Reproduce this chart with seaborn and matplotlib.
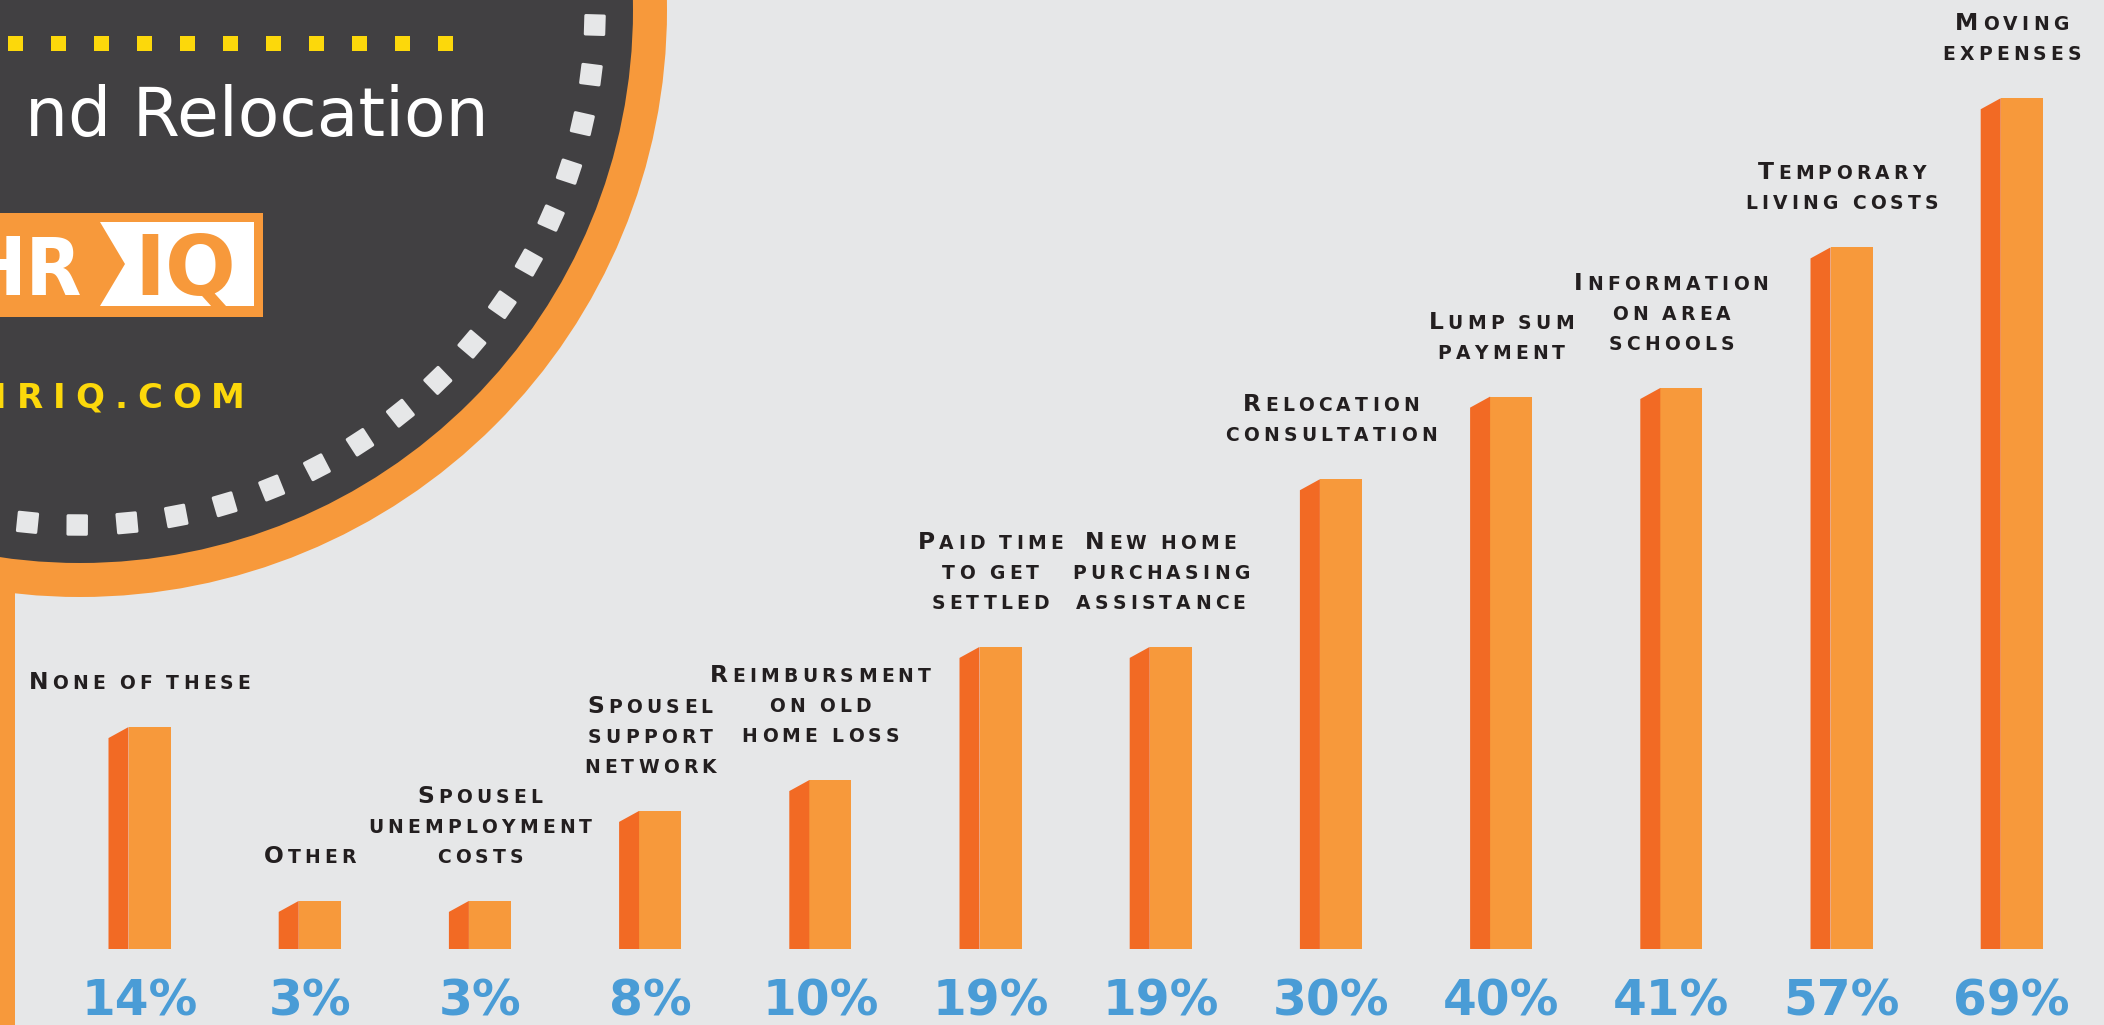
import matplotlib
matplotlib.use("Agg")
import matplotlib.pyplot as plt
from matplotlib.patches import Circle, Polygon, Rectangle, RegularPolygon
import numpy as np
import pandas as pd
import seaborn as sns

benefits = [
    "None of these",
    "Other",
    "Spousel\nunemployment\ncosts",
    "Spousel\nsupport\nnetwork",
    "Reimbursment\non old\nhome loss",
    "Paid time\nto get\nsettled",
    "New home\npurchasing\nassistance",
    "Relocation\nconsultation",
    "Lump sum\npayment",
    "Information\non area\nschools",
    "Temporary\nliving costs",
    "Moving\nexpenses",
]
share_pct = [14, 3, 3, 8, 10, 19, 19, 30, 40, 41, 57, 69]
# the artwork is not drawn to scale: bar heights as measured, in units of the 69% bar
drawn_height = [18.0, 3.9, 3.9, 11.2, 13.7, 24.5, 24.5, 38.1, 44.8, 45.5, 56.9, 69.0]

# colours
BG = "#e6e7e8"
DARK = "#414042"
ORANGE = "#f7993b"
SIDE = "#f26a24"
BLUE = "#4a9cd6"
YELLOW = "#fcd80b"
INK = "#231f20"

# layout (pixels)
W, H, DPI = 2104, 1025, 100
BASE_Y = 949
PX_PER_UNIT = 12.33
FIRST_X, STEP = 149.5, 170.2
FRONT_W, SIDE_W, SLANT = 42, 20, 11
CX, CY = 80, 10


def spaced_line(ax, x, y, line, size, small, gap, ha="center", **kw):
    """Draw one line letter by letter: small caps with letter spacing."""
    renderer = ax.figure.canvas.get_renderer()
    items = []
    for ch in line:
        if ch == " ":
            items.append((None, 0.3 * small * DPI / 72))
            continue
        fs = small if ch.islower() else size
        t = ax.text(0, y, ch.upper(), fontsize=fs, ha="left", va="baseline", **kw)
        items.append((t, t.get_window_extent(renderer).width))
    total = sum(w for _, w in items) + gap * (len(items) - 1)
    cur = x - total / 2 if ha == "center" else x - total
    for t, w in items:
        if t is not None:
            t.set_x(cur)
        cur += w + gap


sns.set_theme(style="white")
plt.rcParams["font.family"] = ["DejaVu Sans"]

fig = plt.figure(figsize=(W / DPI, H / DPI), dpi=DPI, facecolor=BG)
bg = fig.add_axes([0, 0, 1, 1], zorder=0)
bg.set_xlim(0, W)
bg.set_ylim(H, 0)
bg.axis("off")

# ---- badge in the top-left corner ----
bg.add_patch(Rectangle((0, 560), 15, H - 560, color=ORANGE, lw=0))
bg.add_patch(Circle((CX, CY), 587, color=ORANGE, lw=0))
bg.add_patch(Circle((CX, CY), 553, color=DARK, lw=0))
for k in range(-1, 19):
    th = np.deg2rad(1.67 + 5.54 * k)
    bg.add_patch(RegularPolygon((CX + 515 * np.cos(th), CY + 515 * np.sin(th)), 4,
                                radius=13, orientation=th - np.pi / 4,
                                facecolor=BG, edgecolor=BG, lw=2.2, joinstyle="round"))
for i in range(11):
    bg.add_patch(Rectangle((8 + 43 * i, 36), 15, 15, color=YELLOW, lw=0))

bg.text(489, 136, "nd Relocation", ha="right", va="baseline", fontsize=49,
        color="white")

bg.add_patch(Rectangle((0, 213), 263, 104, color=ORANGE, lw=0))
bg.add_patch(Polygon([(100, 222), (254, 222), (254, 306), (100, 306), (125, 264)],
                     closed=True, color="white", lw=0))
bg.text(82, 295, "HR", ha="right", va="baseline", fontsize=58, weight="bold",
        color="white", fontstretch="condensed")
bg.text(185, 295, "IQ", ha="center", va="baseline", fontsize=60, weight="bold",
        color=ORANGE)
spaced_line(bg, 245, 408, "HRIQ.COM", 24.5, 24.5, 10, ha="right",
            color=YELLOW, weight="bold")

# ---- bars ----
df = pd.DataFrame({"benefit": benefits, "height": drawn_height, "share": share_pct})
ax = fig.add_axes([0, 0, 1, 1], zorder=1)
sns.barplot(data=df, x="benefit", y="height", order=benefits, color=ORANGE,
            saturation=1, width=FRONT_W / STEP, linewidth=0, errorbar=None, ax=ax)
ax.set_xlim(-FIRST_X / STEP, (W - FIRST_X) / STEP)
ax.set_ylim(-(H - BASE_Y) / PX_PER_UNIT, BASE_Y / PX_PER_UNIT)
ax.axis("off")

sw = SIDE_W / STEP
slant = SLANT / PX_PER_UNIT
to_bg = bg.transData.inverted()
for bar, label, pct in zip(list(ax.patches), benefits, share_pct):
    x0, w, h = bar.get_x(), bar.get_width(), bar.get_height()
    ax.add_patch(Polygon([(x0 - sw, 0), (x0, 0), (x0, h), (x0 - sw, h - slant)],
                         closed=True, color=SIDE, lw=0))
    px, py = to_bg.transform(ax.transData.transform((x0 + (w - sw) / 2, h)))
    bg.text(px, H, f"{pct}%", ha="center", va="bottom", fontsize=35,
            weight="bold", color=BLUE)
    lines = label.split("\n")
    for j, line in enumerate(reversed(lines)):
        spaced_line(bg, px, py - 38 - 30 * j, line, 16.8, 13.5, 4.2,
                    color=INK, weight="bold")

fig.savefig("out.png", dpi=DPI, facecolor=BG)
